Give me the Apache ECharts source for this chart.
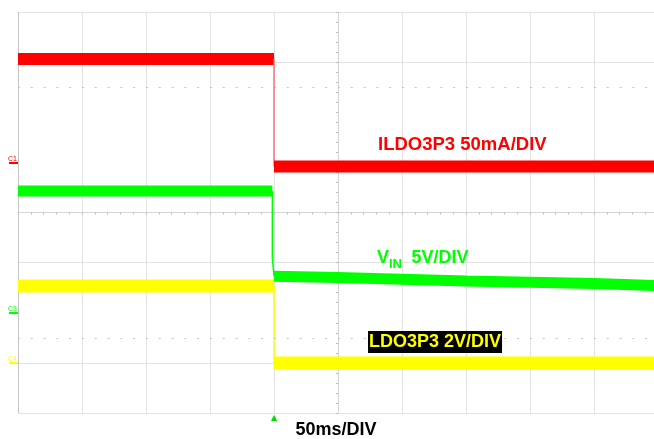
<!DOCTYPE html>
<html><head><meta charset="utf-8">
<script src="https://cdn.jsdelivr.net/npm/echarts@6/dist/echarts.min.js"></script>
<style>html,body{margin:0;padding:0;background:#fff}#c{width:654px;height:439px}</style>
</head><body><div id="c"></div>
<script>
// ---- data (time in ms, 50 ms/div; channel values in their own units) ----
const timeRange = [-250, 250];
const divRange = [-4, 4];
const dottedRowsDiv = [2.5, -2.5];
const triggerTimes = [-50];

// C1: ILDO3P3 current (mA), 50 mA/div
const redRange = [-250, 150];
const redPreT = [-250, -50];   const redPreV = [103, 103];
const redEdgeT = [-50, -50];   const redEdgeV = [103, -4];
const redPostT = [-50, 250];   const redPostV = [-4, -4];

// C3: VIN (V), 5 V/div
const greenRange = [-10, 30];
const greenPreT = [-250, -51.3];          const greenPreV = [12.15, 12.15];
const greenEdgeT = [-51.3, -51.3, -50];   const greenEdgeV = [12.15, 5.46, 3.64];
const greenPostT = [-50, 0, 100, 200, 250]; const greenPostV = [3.64, 3.52, 3.17, 2.92, 2.70];

// C4: LDO3P3 (V), 2 V/div
const yellowRange = [-2, 14];
const yellowPreT = [-250, -50];  const yellowPreV = [3.07, 3.07];
const yellowEdgeT = [-50, -50];  const yellowEdgeV = [3.07, 0];
const yellowPostT = [-50, 250];  const yellowPostV = [0, 0];

const channelNames = ['C1', 'C3', 'C4'];
const textLabels = ['ILDO3P3 50mA/DIV', 'V', 'IN', '5V/DIV', 'LDO3P3 2V/DIV', '50ms/DIV'];

// ---- build ----
const FONT = '"Liberation Sans", Arial, sans-serif';
const RED = '#ff0000', GREEN = '#00ff00', YELLOW = '#ffff00';
const GRID = '#e2e2e2', BORDER = '#c4c4c4', CLEAR = 'rgba(0,0,0,0)', TICK = '#bdbdbd';
const pts = (t, v) => t.map((x, i) => [x, v[i]]);

function chanAxis(range, name, color) {
  return {
    type: 'value', min: range[0], max: range[1], position: 'left',
    axisLine: {show: false, onZero: false},
    splitLine: {show: false},
    axisTick: {show: true, customValues: [0], length: 9, inside: false, lineStyle: {color: color, width: 2}},
    axisLabel: {show: true, customValues: [0], formatter: () => name, color: color, fontSize: 7,
      margin: 1, verticalAlign: 'bottom', fontFamily: FONT}
  };
}
function line(data, yi, color, width, z) {
  return {type: 'line', xAxisIndex: 0, yAxisIndex: yi, data: data, symbol: 'none', showSymbol: false,
    silent: true, z: z, lineStyle: {color: color, width: width, cap: 'butt', join: 'bevel'}};
}

const option = {
  animation: false,
  backgroundColor: '#fff',
  grid: {left: 18, right: -4, top: 12, bottom: 26, containLabel: false, outerBoundsMode: 'none'},
  xAxis: [
    {type: 'value', min: timeRange[0], max: timeRange[1], interval: 50,
      axisLine: {show: true, onZero: true, onZeroAxisIndex: 0, lineStyle: {color: '#d4d4d4'}},
      axisTick: {show: true, length: 2, lineStyle: {color: TICK}},
      minorTick: {show: true, splitNumber: 5, length: 2, lineStyle: {color: TICK}},
      axisLabel: {show: false},
      splitLine: {show: true, lineStyle: {width: 1,
        color: [BORDER, GRID, GRID, GRID, GRID, GRID, GRID, GRID, GRID, GRID, GRID]}}},
    {type: 'value', min: timeRange[0], max: timeRange[1], position: 'bottom',
      axisLine: {show: false}, axisTick: {show: false}, splitLine: {show: false},
      axisLabel: {show: false},
      name: textLabels[5], nameLocation: 'middle', nameGap: 8, nameMoveOverlap: false,
      nameTextStyle: {fontWeight: 'bold', fontSize: 18, color: '#000', fontFamily: FONT,
        verticalAlign: 'top', padding: [0, 4, 0, 0]}},
    {type: 'value', min: timeRange[0], max: timeRange[1], position: 'bottom',
      axisLine: {show: false}, axisTick: {show: false}, splitLine: {show: false},
      axisLabel: {show: true, customValues: triggerTimes, formatter: () => '▲', color: '#00dd00',
        fontSize: 8, margin: 1, fontFamily: 'DejaVu Sans'}}
  ],
  yAxis: [
    {type: 'value', min: divRange[0], max: divRange[1], interval: 1,
      axisLine: {show: true, onZero: true, lineStyle: {color: '#d4d4d4'}},
      axisTick: {show: true, length: 2, lineStyle: {color: TICK}},
      minorTick: {show: true, splitNumber: 5, length: 2, lineStyle: {color: TICK}},
      axisLabel: {show: false},
      splitLine: {show: true, lineStyle: {width: 1,
        color: [GRID, GRID, CLEAR, GRID, GRID, CLEAR, CLEAR, GRID, GRID]}}},
    chanAxis(redRange, channelNames[0], RED),
    chanAxis(greenRange, channelNames[1], GREEN),
    chanAxis(yellowRange, channelNames[2], YELLOW)
  ],
  series: [
    {type: 'line', xAxisIndex: 0, yAxisIndex: 0, data: [], symbol: 'none', silent: true,
      markLine: {silent: true, symbol: 'none', label: {show: false},
        lineStyle: {type: [2, 10.8], color: '#c4c4c4', width: 1},
        data: dottedRowsDiv.map(v => ({yAxis: v}))}},
    line(pts(greenPreT, greenPreV), 2, GREEN, 11, 3),
    line(pts(greenEdgeT, greenEdgeV), 2, GREEN, 1.5, 3),
    line(pts(greenPostT, greenPostV), 2, GREEN, 11, 3),
    line(pts(yellowPreT, yellowPreV), 3, YELLOW, 13, 4),
    line(pts(yellowEdgeT, yellowEdgeV), 3, YELLOW, 1.5, 4),
    line(pts(yellowPostT, yellowPostV), 3, YELLOW, 13, 4),
    line(pts(redPreT, redPreV), 1, RED, 12, 5),
    line(pts(redEdgeT, redEdgeV), 1, '#ff7070', 1.5, 5),
    line(pts(redPostT, redPostV), 1, RED, 12, 5)
  ],
  graphic: [
    {type: 'text', x: 378, y: 145, z: 10, style: {text: textLabels[0], fill: RED,
      font: 'bold 18.5px ' + FONT, align: 'left', verticalAlign: 'middle'}},
    {type: 'text', x: 377, y: 258, z: 10, style: {text: textLabels[1], fill: GREEN,
      font: 'bold 18px ' + FONT, align: 'left', verticalAlign: 'middle'}},
    {type: 'text', x: 389, y: 264, z: 10, style: {text: textLabels[2], fill: GREEN,
      font: 'bold 13px ' + FONT, align: 'left', verticalAlign: 'middle'}},
    {type: 'text', x: 411.5, y: 258, z: 10, style: {text: textLabels[3], fill: GREEN,
      font: 'bold 18px ' + FONT, align: 'left', verticalAlign: 'middle'}},
    {type: 'text', x: 368, y: 331, z: 10, style: {text: textLabels[4], fill: YELLOW,
      font: 'bold 18px ' + FONT, align: 'left', verticalAlign: 'top',
      backgroundColor: '#000', padding: [2, 1, 2, 1]}}
  ]
};
const chart = echarts.init(document.getElementById('c'), null, {renderer: 'canvas'});
chart.setOption(option);
</script></body></html>
